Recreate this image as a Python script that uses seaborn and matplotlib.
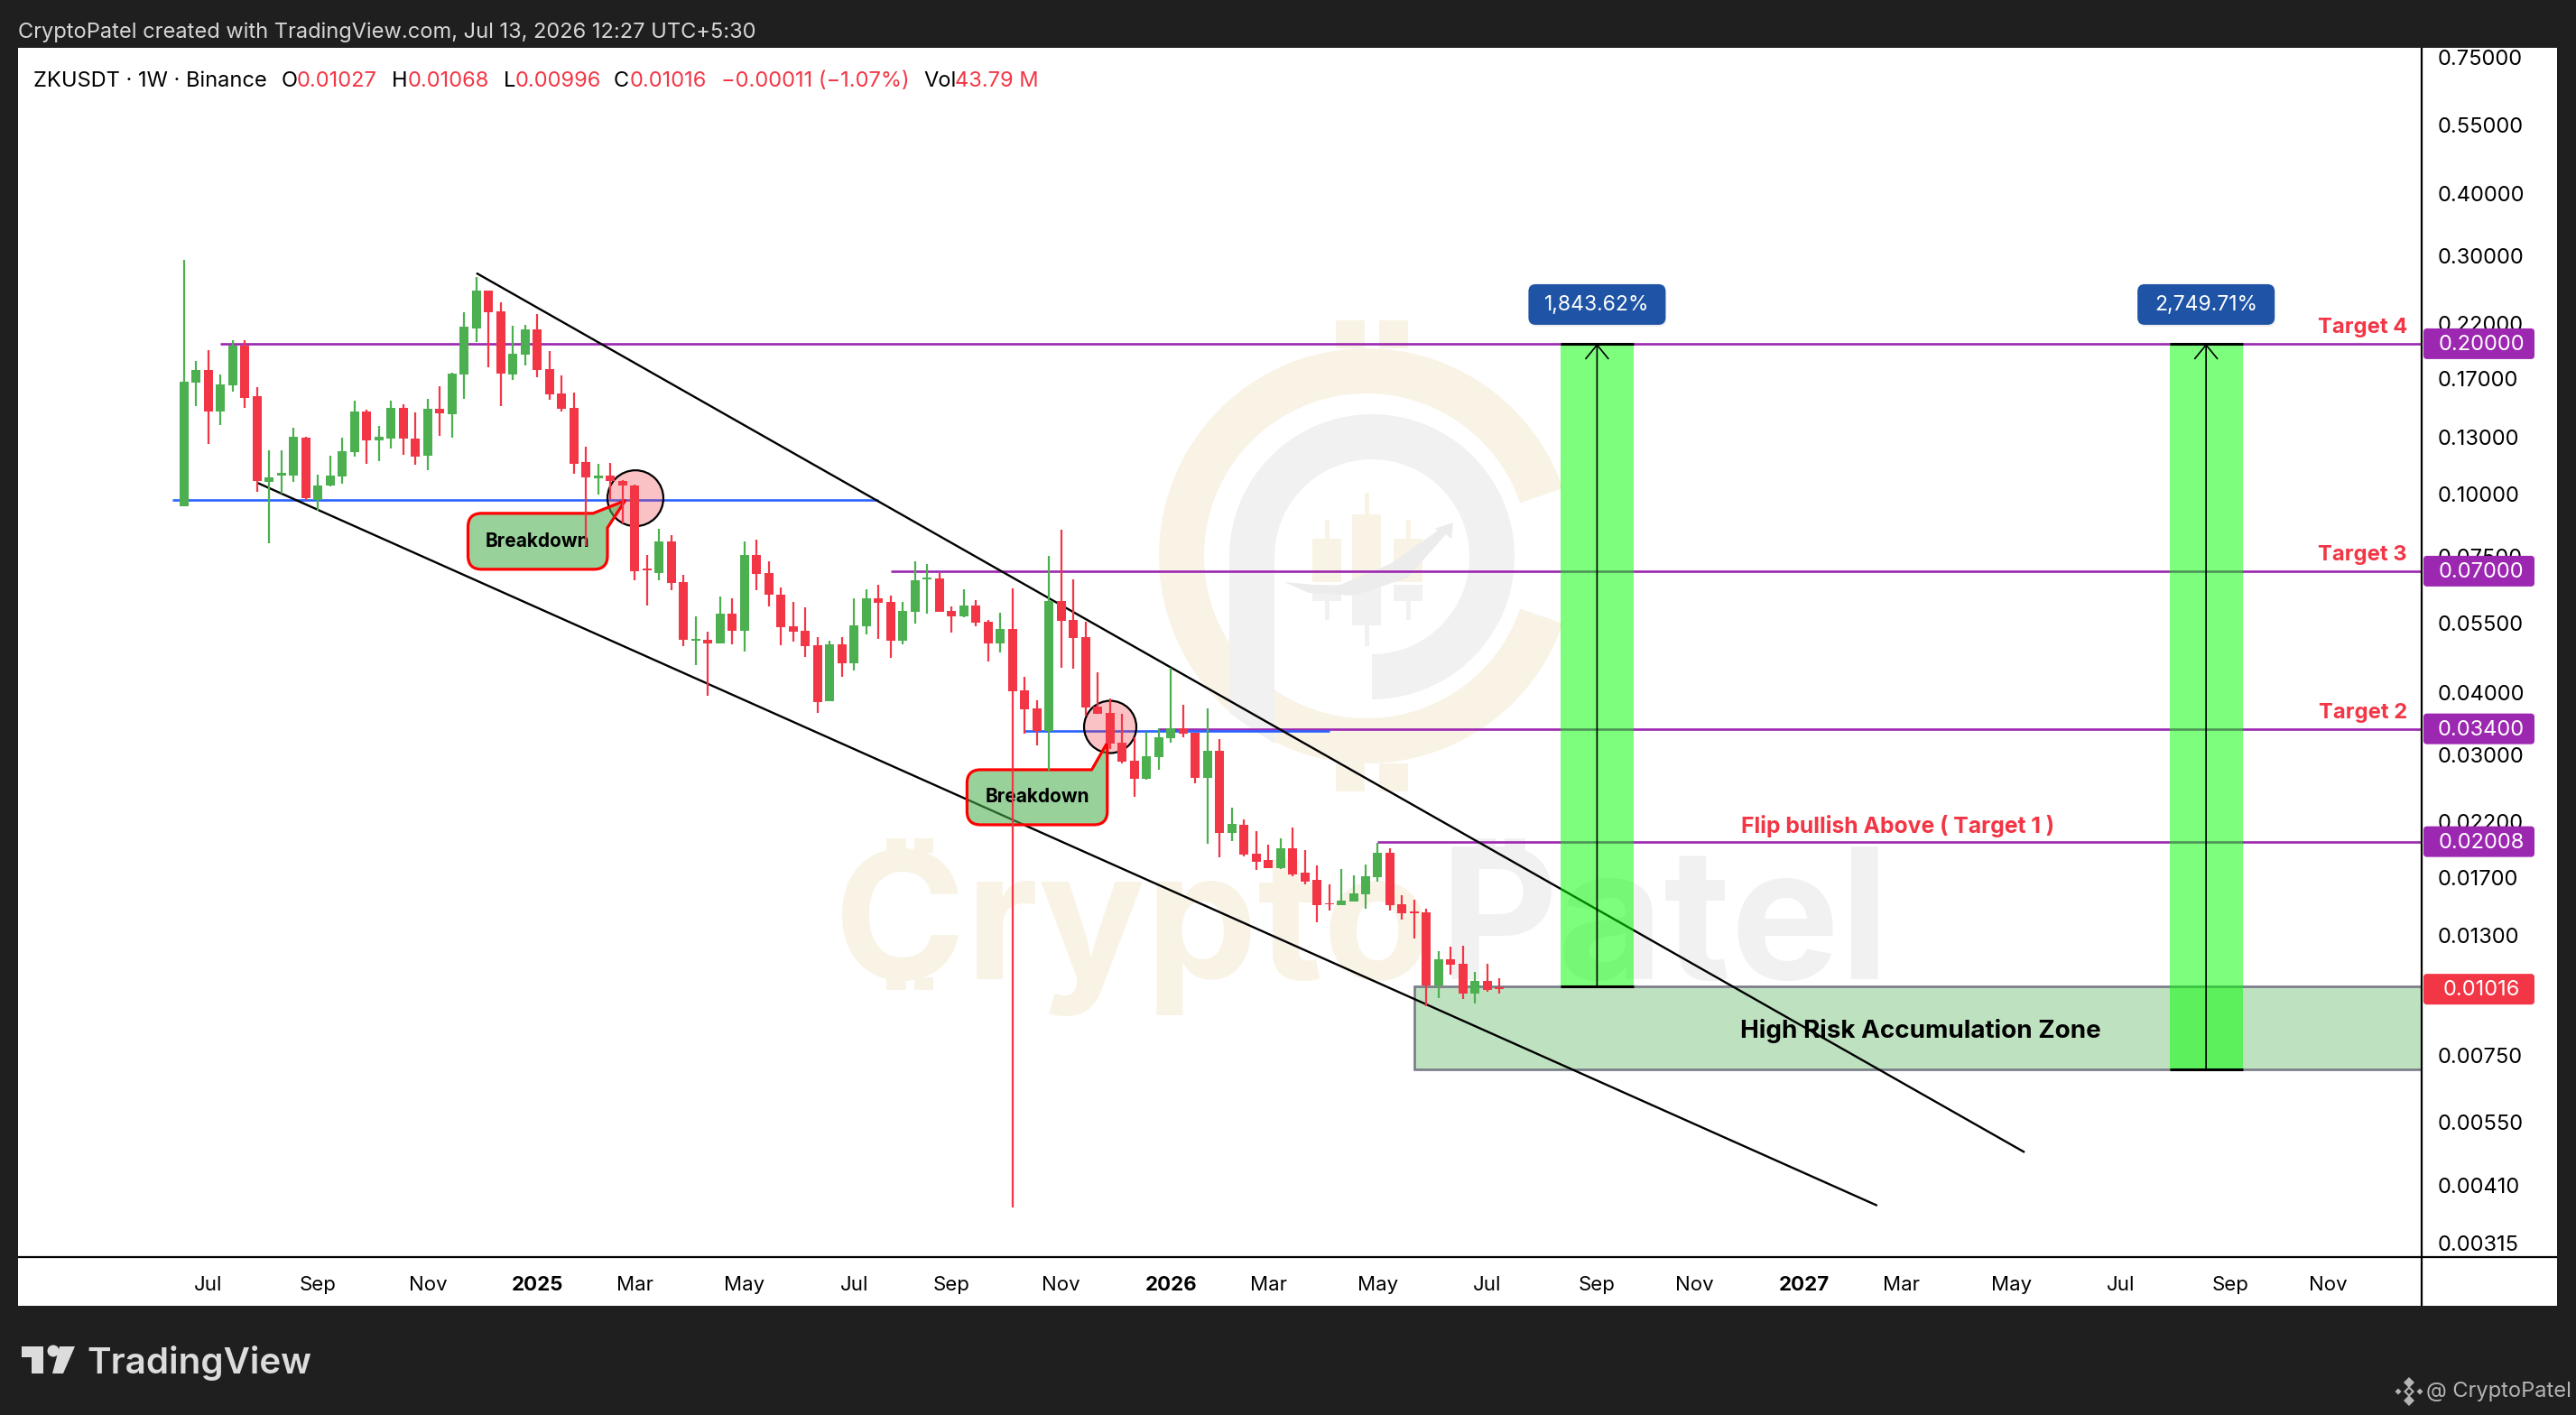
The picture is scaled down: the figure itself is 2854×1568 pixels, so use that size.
import numpy as np
import pandas as pd
import matplotlib
matplotlib.use('Agg')
import matplotlib.pyplot as plt
import seaborn as sns
from matplotlib.lines import Line2D
from matplotlib.patches import FancyBboxPatch, PathPatch, Polygon, Rectangle, RegularPolygon, Circle, Wedge
from matplotlib.path import Path
from matplotlib.transforms import Affine2D

W, H = 2854, 1568

# weekly candles from 2024-06-17, prices (unit 1e-5 USDT)
OPEN_E5 = [9461,16720,17724,14633,16512,19834,15707,10573,10886,10886,12968,9728,10398,10841,12131,14633,12807,12914,
           14879,12914,11931,14817,14451,17359,21468,25573,23236,17359,19025,21379,17798,15904,14879,11588,10751,10888,
           10617,10398,7088,6942,8031,6658,5086,5100,5016,5755,5317,7545,6942,6281,5429,5317,4974,3842,
           4995,4577,5429,6177,6075,5079,5803,6742,6770,5827,5684,5975,5543,5016,5362,4039,3716,3349,
           6101,5590,5164,3747,3639,3172,2918,2685,2967,3239,3391,3321,2696,3055,2091,2171,1900,1845,
           1778,1948,1741,1684,1511,1498,1524,1575,1705,1908,1505,1455,1449,1034,1167,1143,996,1056,1027]
HIGH_E5 = [29423,18478,19425,17359,20336,20336,16375,12233,12233,13576,13022,10932,11931,12968,15383,14755,13689,15383,
           15129,14572,15512,16443,17504,23140,27222,25573,24225,21738,21829,22948,19344,17286,15971,12439,11492,11536,
           10662,10442,7545,8514,8269,6884,5684,5295,6229,6177,8031,8099,7328,6494,6075,5925,5164,5078,
           5164,6177,6440,6576,6255,6075,7328,7237,6942,5950,6440,6126,5590,5779,6467,4299,3858,7514,
           8478,6742,5543,4390,3890,3624,3257,3335,3391,4482,3778,3321,3716,3225,2350,2226,2109,1981,
           2040,2144,1932,1800,1649,1770,1719,1807,1998,1948,1569,1536,1474,1212,1237,1242,1101,1143,1068]
LOW_E5 = [9461,15003,12595,13747,16038,14879,10100,7965,10030,10573,9728,9254,10355,10485,11881,11492,11636,12334,
          11981,11444,11162,13076,12968,15512,20167,17947,15003,16930,18097,17143,15447,14633,10977,7866,9974,9754,
          8729,6714,5975,6714,6413,4954,4539,3939,5016,4995,4831,6413,5950,4974,5058,4712,3639,3842,
          4299,4427,5229,5121,4692,4995,5497,5755,5803,5273,5660,5429,4615,4811,371,3307,3133,2788,
          4482,4464,3589,3624,3081,2882,2470,2674,2799,3172,3252,2630,1989,1869,2014,1876,1763,1778,
          1770,1712,1649,1384,1461,1498,1524,1474,1670,1461,1402,1284,940,976,1087,972,952,1004,996]
CLOSE = [0.168,0.177,0.146,0.166,0.198,0.156,0.106,0.108,0.11,0.13,0.09809,0.104,0.109,0.122,0.146,0.128,0.13,0.149,
         0.129,0.119,0.148,0.145,0.174,0.216,0.256,0.231,0.174,0.191,0.214,0.177,0.158,0.148,0.115,0.108,0.109,0.106,
         0.104,0.07,0.07039,0.08031,0.06631,0.051,0.05121,0.05016,0.05755,0.05317,0.07545,0.06913,0.06281,0.05406,0.05295,0.04954,0.03826,0.04995,
         0.04577,0.05452,0.06177,0.0605,0.05079,0.05827,0.06714,0.06799,0.05803,0.05684,0.05975,0.0552,0.05016,0.05362,0.04022,0.03701,0.03348,0.06101,
         0.05566,0.05143,0.03731,0.03624,0.03159,0.02906,0.02685,0.0298,0.03252,0.03391,0.03307,0.02696,0.03055,0.02091,0.0218,0.01892,0.0183,0.01778,
         0.01948,0.01726,0.0167,0.01498,0.01501,0.0153,0.01582,0.01712,0.01908,0.01498,0.01443,0.01445,0.01034,0.01167,0.01138,0.009962,0.01056,0.01013,0.01016]

MONTH_WEEKS = [2,11,20,29,37,46,55,63,72,81,89,98,107,116,124,133,141,150,159,168,176]
MONTH_LABELS = ['Jul','Sep','Nov','2025','Mar','May','Jul','Sep','Nov','2026','Mar','May','Jul','Sep','Nov','2027','Mar','May','Jul','Sep','Nov']
PRICE_TICKS = [0.75,0.55,0.40,0.30,0.22,0.17,0.13,0.10,0.075,0.055,0.04,0.03,0.022,0.017,0.013,0.0075,0.0055,0.0041,0.00315]

LEVELS = [0.2, 0.07, 0.0338, 0.02008]
LEVEL_START = [3, 58, 80, 98]
BADGES = ['0.20000', '0.07000', '0.03400', '0.02008']
BLUE_LEVELS = [0.0973, 0.0335]
BLUE_SPANS = [(-1, 57), (69, 94)]
UPPER_TREND = ([24, 151.1], [0.2771, 0.004786])
LOWER_TREND = ([6, 139], [0.10528, 0.003742])
CIRCLES = ([37.05, 76.03], [0.098, 0.0341])
ZONE = (101, 0.00702, 0.0103)
PROJECTIONS = [(113, 119, 0.01029, '1,843.62%'), (163, 169, 0.007018, '2,749.71%')]
TARGET_LABELS = ['Target 4', 'Target 3', 'Target 2']
LAST_PRICE = 0.01016

GREEN, RED, PURPLE, BLUE = '#4caf50', '#f23645', '#9c27b0', '#2962ff'
DARK = '#1f1f1f'

sns.set_theme(style='white')
plt.rcParams['font.family'] = ['Inter', 'DejaVu Sans']
plt.rcParams['lines.solid_capstyle'] = 'butt'

fig = plt.figure(figsize=(W / 100, H / 100), dpi=100, facecolor=DARK)
ax = fig.add_axes([20 / W, (H - 1393) / H, 2663 / W, 1340 / H])
ax.set_yscale('log')
ax.set_xlim(-13.635, 183.70)
ax.set_ylim(0.00295, 0.784)
PX = Affine2D().scale(1, -1).translate(0, H)


def to_px(week, price):
    x, y = ax.transData.transform((week, price))
    return x, H - y


fig.add_artist(Rectangle((20, 53), 2813, 1394, transform=PX, fc='white', ec='none', zorder=-1))
ax.patch.set_alpha(0)

# watermark, sits behind everything
CREAM, PALE = '#f9f3e6', '#f1f1f1'


def wm_rect(x0, y0, x1, y1, c):
    ax.add_patch(Rectangle((x0, y0), x1 - x0, y1 - y0, transform=PX, fc=c, ec='none', zorder=0.5))


ax.add_patch(Wedge((1514, 616), 230, 19, 341, width=50, transform=PX, fc=CREAM, ec='none', zorder=0.5))
for x0, x1 in [(1480, 1512), (1528, 1560)]:
    wm_rect(x0, 355, x1, 386, CREAM)
    wm_rect(x0, 846, x1, 877, CREAM)
ax.add_patch(Wedge((1520, 617), 158, 180, 450, width=50, transform=PX, fc=PALE, ec='none', zorder=0.5))
ax.add_patch(Polygon([(1362, 617), (1412, 617), (1412, 824), (1362, 790)], transform=PX, fc=PALE, ec='none', zorder=0.5))
for cx, w_, b0, b1, h0, h1 in [(1470, 16, 597, 666, 576, 687), (1514, 16, 570, 693, 546, 716), (1560, 16, 597, 666, 576, 687)]:
    wm_rect(cx - 2, h0, cx + 3, 645, CREAM)
    wm_rect(cx - w_, b0, cx + w_, 645, CREAM)
    wm_rect(cx - w_, 648, cx + w_, b1, PALE)
    wm_rect(cx - 2, 648, cx + 3, h1, PALE)
ax.add_patch(Polygon([(1423, 645), (1480, 650), (1540, 625), (1593, 588), (1589, 586), (1610, 579), (1608, 597), (1602, 592),
                      (1560, 640), (1500, 660), (1450, 657)], transform=PX, fc='#ececec', ec='none', zorder=0.6))
ax.text(924, 1085, 'Crypto', transform=PX, fontsize=142, fontweight='bold', color=CREAM, va='baseline', ha='left', zorder=0.5)
ax.text(1595, 1085, 'Patel', transform=PX, fontsize=146, fontweight='bold', color=PALE, va='baseline', ha='left', zorder=0.5)
for x0, x1 in [(982, 1004), (1013, 1034)]:
    wm_rect(x0, 929, x1, 945, CREAM)
    wm_rect(x0, 1083, x1, 1097, CREAM)
for x0, x1 in [(1635, 1657), (1667, 1690)]:
    wm_rect(x0, 929, x1, 945, PALE)

# candles through seaborn, one line per week
opens = np.array(OPEN_E5) / 1e5
highs = np.array(HIGH_E5) / 1e5
lows = np.array(LOW_E5) / 1e5
closes = np.array(CLOSE)
weeks = np.arange(len(closes))
side = np.where(closes >= opens, 'up', 'down')
wicks = pd.DataFrame({'week': np.r_[weeks, weeks], 'price': np.r_[lows, highs], 'side': np.r_[side, side]})
bodies = pd.DataFrame({'week': np.r_[weeks, weeks], 'price': np.r_[opens, closes], 'side': np.r_[side, side]})
pal = {'up': GREEN, 'down': RED}
sns.lineplot(data=wicks, x='week', y='price', hue='side', units='week', estimator=None, palette=pal,
             legend=False, linewidth=1.6, solid_capstyle='butt', zorder=5, ax=ax)
sns.lineplot(data=bodies, x='week', y='price', hue='side', units='week', estimator=None, palette=pal,
             legend=False, linewidth=7.2, solid_capstyle='butt', zorder=5, ax=ax)

# levels and trend lines
for lev, start in zip(LEVELS, LEVEL_START):
    ax.plot([start, 183.7], [lev, lev], color=PURPLE, lw=1.9, zorder=2)
for lev, (a, b) in zip(BLUE_LEVELS, BLUE_SPANS):
    ax.plot([a, b], [lev, lev], color=BLUE, lw=1.9, zorder=2)
ax.plot(*UPPER_TREND, color='black', lw=1.7, zorder=2.5)
ax.plot(*LOWER_TREND, color='black', lw=1.7, zorder=2.5)

# accumulation zone
zx, zlo, zhi = ZONE
ax.add_patch(Rectangle((zx, zlo), 183.7 - zx, zhi - zlo, fc=(0.298, 0.686, 0.314, 0.36), ec='#787b86', lw=1.9, zorder=2.2))
ax.text(2128, 1142, 'High Risk Accumulation Zone', transform=PX, fontsize=20, fontweight='bold', color='black',
        ha='center', va='center', zorder=7)

# projection boxes with arrows
for x0, x1, base, txt in PROJECTIONS:
    ax.add_patch(Rectangle((x0, base), x1 - x0, 0.2 - base, fc=(0, 1, 0, 0.51), ec='none', zorder=3))
    ax.plot([x0, x1], [0.2, 0.2], color='black', lw=2.2, zorder=6)
    ax.plot([x0, x1], [base, base], color='black', lw=2.2, zorder=6)
    mid = (x0 + x1) / 2
    ax.annotate('', xy=(mid, 0.2), xytext=(mid, base), zorder=6,
                arrowprops=dict(arrowstyle='->,head_length=0.55,head_width=0.45', color='black', lw=1.2,
                                shrinkA=0, shrinkB=0, mutation_scale=20))
    cx, cy = to_px(mid, 0.2)
    fig.add_artist(FancyBboxPatch((cx - 71, cy - 60), 144, 37, boxstyle='round,pad=4,rounding_size=8', transform=PX,
                                  fc=(0, 0, 0, 0.07), ec='none', zorder=2.9))
    fig.add_artist(FancyBboxPatch((cx - 72, cy - 62), 144, 37, boxstyle='round,pad=4,rounding_size=8', transform=PX,
                                  fc='#1e53a5', ec='none', zorder=3))
    fig.text(cx, cy - 43, txt, transform=PX, color='white', fontsize=16.5, ha='center', va='center', zorder=4)

# circles, size is in points squared so they stay round on the log axis
sns.scatterplot(x=CIRCLES[0], y=CIRCLES[1], s=[1990, 1740], size=[1990, 1740], sizes=(1740, 1990), legend=False,
                color=(0.949, 0.212, 0.271, 0.3), edgecolor='black', linewidth=1.6, zorder=4, ax=ax)


def callout(week, price, left, right, top, bottom, nx, ry, r=15):
    tx, ty = to_px(week, price)
    verts = [(left + r, top), (nx, top), (0, 0), (right, ry), (right, bottom - r), (right, bottom), (right - r, bottom),
             (left + r, bottom), (left, bottom), (left, bottom - r), (left, top + r), (left, top), (left + r, top), (left + r, top)]
    codes = [Path.MOVETO, Path.LINETO, Path.LINETO, Path.LINETO, Path.LINETO, Path.CURVE3, Path.CURVE3,
             Path.LINETO, Path.CURVE3, Path.CURVE3, Path.LINETO, Path.CURVE3, Path.CURVE3, Path.CLOSEPOLY]
    verts = [(tx + a, ty + b) for a, b in verts]
    ax.add_patch(PathPatch(Path(verts, codes), transform=PX, fc=(0.298, 0.686, 0.314, 0.57), ec='#ff0000', lw=2.3,
                           zorder=4.5, clip_on=False, joinstyle='round'))
    ax.text(tx + (left + right) / 2, ty + (top + bottom) / 2, 'Breakdown', transform=PX, fontsize=15, fontweight='bold',
            color='black', ha='center', va='center', zorder=4.6)


callout(36.2, 0.0969, -174, -19.5, 14, 76, -35.5, 30)
callout(75.79, 0.03171, -155.4, 0, 30, 91, -17.2, 40)

# target labels
for lev, txt in zip(LEVELS, TARGET_LABELS):
    ax.text(2667, to_px(0, lev)[1] - 18, txt, transform=PX, fontsize=17.2, fontweight='bold', color=RED, ha='right', va='center', zorder=7)
ax.text(2103, to_px(0, LEVELS[3])[1] - 17, 'Flip bullish Above ( Target 1 )', transform=PX, fontsize=17.8, fontweight='bold',
        color=RED, ha='center', va='center', zorder=7)

# axes
ax.set_xticks(MONTH_WEEKS, MONTH_LABELS)
ax.set_yticks(PRICE_TICKS, ['%.5f' % p for p in PRICE_TICKS])
ax.minorticks_off()
ax.yaxis.tick_right()
ax.tick_params(axis='y', length=0, pad=13, labelsize=17, labelcolor='black')
ax.tick_params(axis='x', length=0, pad=15, labelsize=16, labelcolor='black')
for lab in ax.get_yticklabels():
    lab.set_va('center_baseline')
for lab in ax.get_xticklabels():
    if lab.get_text().startswith('20'):
        lab.set_fontweight('bold')
ax.set_xlabel('')
ax.set_ylabel('')
ax.grid(False)
for s in ax.spines.values():
    s.set_visible(False)
fig.add_artist(Line2D([2683, 2683], [53, 1447], transform=PX, color='black', lw=1.6, zorder=2))
fig.add_artist(Line2D([20, 2833], [1393, 1393], transform=PX, color='black', lw=1.6, zorder=2))

# price badges on the axis
for lev, col, txt in list(zip(LEVELS, [PURPLE] * 4, BADGES)) + [(LAST_PRICE, RED, '0.01016')]:
    y = to_px(0, lev)[1]
    fig.add_artist(FancyBboxPatch((2685, y - 17), 123, 34, boxstyle='round,pad=0,rounding_size=4', transform=PX, fc=col, ec='none', zorder=3))
    fig.text(2749, y + 1, txt, transform=PX, color='white', fontsize=17, ha='center', va='center', zorder=4)

# header
fig.text(20, 36, 'CryptoPatel created with TradingView.com, Jul 13, 2026 12:27 UTC+5:30', transform=PX, color='#d6d6d6',
         fontsize=17, va='center')
for x, s, c in [(37, 'ZKUSDT · 1W · Binance', 'black'), (312, 'O', 'black'), (329, '0.01027', RED), (434, 'H', 'black'),
                (452, '0.01068', RED), (558, 'L', 'black'), (571, '0.00996', RED), (680, 'C', 'black'), (698, '0.01016', RED),
                (799, '−0.00011 (−1.07%)', RED), (1023, 'Vol', 'black'), (1058, '43.79 M', RED)]:
    fig.text(x, 90, s, transform=PX, color=c, fontsize=17, va='center')

# footer, logo shapes and credits
LOGO = '#dcdcdc'
fig.add_artist(Polygon([(24, 1492), (48, 1492), (48, 1522), (35, 1522), (35, 1504), (24, 1504)], transform=PX, fc=LOGO, ec='none'))
fig.add_artist(Circle((59, 1497), 6.5, transform=PX, fc=LOGO, ec='none'))
fig.add_artist(Polygon([(66, 1492), (83, 1492), (70, 1522), (58, 1522)], transform=PX, fc=LOGO, ec='none'))
fig.text(96, 1522, 'TradingView', transform=PX, color=LOGO, fontsize=29, fontweight='semibold', va='baseline')
for dx, dy, r in [(0, 0, 6), (-12, 0, 3.5), (12, 0, 3.5), (0, -10, 6), (0, 10, 6)]:
    fig.add_artist(RegularPolygon((2669 + dx, 1542 + dy), 4, radius=r, transform=PX, fc='#b4b4b4', ec='none'))
fig.add_artist(RegularPolygon((2669, 1542), 4, radius=3, transform=PX, fc=DARK, ec='none', zorder=2))
fig.text(2688, 1542, '@ CryptoPatel', transform=PX, color='#b4b4b4', fontsize=17, va='center')

fig.savefig('out.png', dpi=100, facecolor=DARK)
